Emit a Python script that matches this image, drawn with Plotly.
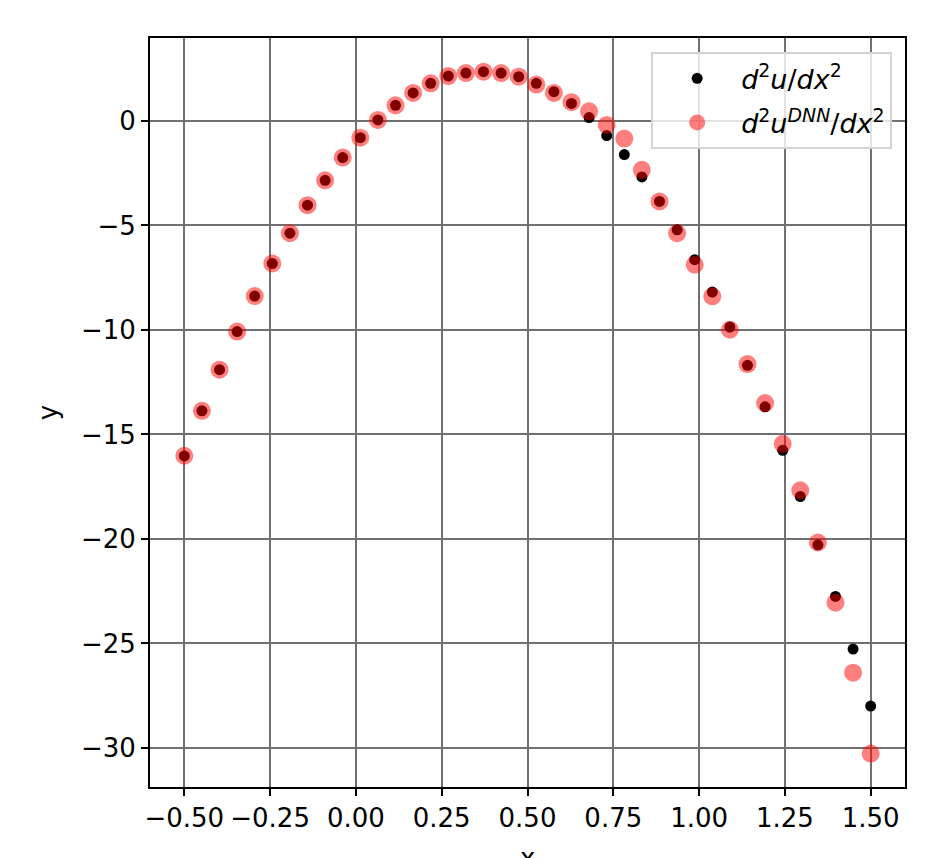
import plotly.graph_objects as go

# x sample positions
x_vals = [-0.5, -0.4487, -0.3974, -0.3462, -0.2949, -0.2436, -0.1923, -0.1410,
          -0.0897, -0.0385, 0.0128, 0.0641, 0.1154, 0.1667, 0.2179, 0.2692,
          0.3205, 0.3718, 0.4231, 0.4744, 0.5256, 0.5769, 0.6282, 0.6795,
          0.7308, 0.7821, 0.8333, 0.8846, 0.9359, 0.9872, 1.0385, 1.0897,
          1.1410, 1.1923, 1.2436, 1.2949, 1.3462, 1.3974, 1.4487, 1.5]

# exact second derivative
y_true = [-16.03, -13.87, -11.90, -10.08, -8.38, -6.82, -5.37, -4.03,
          -2.84, -1.75, -0.80, 0.05, 0.75, 1.34, 1.80, 2.15,
          2.29, 2.36, 2.29, 2.12, 1.80, 1.40, 0.84, 0.16,
          -0.70, -1.61, -2.68, -3.85, -5.21, -6.64, -8.19, -9.86,
          -11.69, -13.68, -15.76, -17.97, -20.28, -22.75, -25.27, -28.0]

# DNN second derivative
y_dnn = [-16.02, -13.87, -11.90, -10.08, -8.38, -6.82, -5.37, -4.03,
         -2.84, -1.75, -0.80, 0.05, 0.75, 1.34, 1.80, 2.15,
         2.29, 2.36, 2.29, 2.12, 1.74, 1.34, 0.90, 0.46,
         -0.19, -0.84, -2.34, -3.85, -5.37, -6.88, -8.39, -9.99,
         -11.63, -13.50, -15.45, -17.67, -20.17, -23.05, -26.40, -30.27]

x_ticks = [-0.5, -0.25, 0.0, 0.25, 0.5, 0.75, 1.0, 1.25, 1.5]
y_ticks = [-30, -25, -20, -15, -10, -5, 0]

FONT = "DejaVu Sans"

fig = go.Figure()
fig.add_trace(go.Scatter(
    x=x_vals, y=y_true, mode="markers", legendgroup="a",
    name="<i>d</i><sup>2</sup><i>u</i>/<i>dx</i><sup>2</sup>",
    marker=dict(color="black", size=11, line=dict(width=0)),
))
fig.add_trace(go.Scatter(
    x=x_vals, y=y_dnn, mode="markers", legendgroup="b",
    name="<i>d</i><sup>2</sup><i>u</i><sup><i>DNN</i></sup>/<i>dx</i><sup>2</sup>",
    marker=dict(color="red", size=18, opacity=0.5, line=dict(width=0)),
))

axis_common = dict(
    showgrid=True, gridcolor="#707070", gridwidth=2,
    showline=True, linecolor="black", linewidth=2, mirror=True,
    ticks="outside", ticklen=7, tickwidth=2, tickcolor="black",
    zeroline=False, automargin=False,
    tickfont=dict(family=FONT, size=26, color="black"),
)

# page body has an 8px margin, so figure is 936x850 placed at (8, 8)
fig.update_layout(
    width=936, height=850,
    margin=dict(l=142, r=39, t=30, b=71, autoexpand=False),
    paper_bgcolor="white", plot_bgcolor="white",
    font=dict(family=FONT, color="black", size=26),
    showlegend=True,
    legend=dict(
        x=0.983, y=0.981, xanchor="right", yanchor="top",
        bgcolor="rgba(255,255,255,0.8)", bordercolor="#d4d4d4", borderwidth=2,
        font=dict(family=FONT, size=27, color="black"),
        itemwidth=78, tracegroupgap=6,
    ),
    xaxis=dict(
        range=[-0.6, 1.6], tickvals=x_ticks, tickformat=".2f",
        **axis_common,
    ),
    yaxis=dict(
        range=[-31.87, 3.97], tickvals=y_ticks,
        title=dict(text="y", font=dict(family=FONT, size=26), standoff=16),
        **axis_common,
    ),
    annotations=[dict(
        text="x", xref="paper", yref="paper", x=0.5, y=-0.072,
        xanchor="center", yanchor="top", showarrow=False,
        font=dict(family=FONT, size=26, color="black"),
    )],
)

fig.write_html("out.html")
